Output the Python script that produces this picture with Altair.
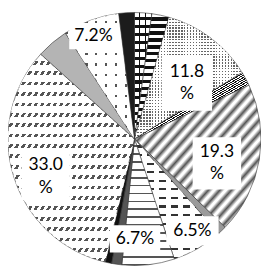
import altair as alt
import pandas as pd

# ---- data, slices clockwise from 12 o'clock ----
categories = ["Brick", "Stripes", "Dots", "Dense", "Diagonal", "SmallDots", "Dashes",
              "Waves", "Checker", "Solid", "Slashes", "Maze", "Chevrons", "DarkDots"]
values = [2.2, 2.2, 11.8, 1.8, 19.3, 1.1, 6.5, 6.7, 1.3, 0.8, 33.0, 4.1, 7.2, 2.0]
label_text = ["", "", "11.8\n%", "", "19.3\n%", "", "6.5%", "6.7%", "", "", "33.0\n%", "", "7.2%", ""]

# ---- layout / style (not data) ----
W, H = 261, 262
R = 130.5
LINE_H = 23
label_radius = [0, 0, 0.605, 0, 0.679, 0, 0.858, 0.789, 0, 0, 0.763, 0, 0.875, 0]
label_nudge = [0, 0, 6.1, 0, 6.9, 0, -2.2, 6.0, 0, 0, -5.7, 0, -1.6, 0]
box_w = [0, 0, 52, 0, 50, 0, 54, 52, 0, 0, 50, 0, 50, 0]
box_h = [0, 0, 57, 0, 54, 0, 30, 28, 0, 0, 48, 0, 27, 0]

CLEAR = "rgba(255,255,255,0)"


def hard(n, fg, frac, bg="#ffffff", vec=(0, 0, 0, 1)):
    stops = []
    for i in range(n):
        a = i / n
        m = (i + 1 - frac) / n
        b = (i + 1) / n
        stops += [(a, bg), (m, bg), (m, fg), (b, fg)]
    return {"gradient": "linear", "x1": vec[0], "y1": vec[1], "x2": vec[2], "y2": vec[3],
            "stops": [{"offset": round(o, 5), "color": c} for o, c in stops]}


def soft(n, fg, bg="#ffffff", vec=(0, 0, 1, 1)):
    stops = []
    for i in range(n):
        a = i / n
        stops += [(a, bg), (a + 0.15 / n, bg), (a + 0.55 / n, fg), (a + 0.95 / n, bg)]
    stops.append((1.0, bg))
    return {"gradient": "linear", "x1": vec[0], "y1": vec[1], "x2": vec[2], "y2": vec[3],
            "stops": [{"offset": round(o, 5), "color": c} for o, c in stops]}


HORIZ = (0, 0, 0, 1)   # gradient runs downward -> horizontal bands
VERT = (0, 0, 1, 0)    # gradient runs rightward -> vertical bands
DIAG = (0, 0, 1, 1)    # "/" bands

fills = {
    "Brick": [hard(16, "#111111", 0.4, vec=HORIZ), hard(3, "#111111", 0.18, bg=CLEAR, vec=VERT)],
    "Stripes": [hard(18, "#111111", 0.5, vec=HORIZ)],
    "Dots": [hard(42, "#666666", 0.5, vec=HORIZ), hard(37, "#ffffff", 0.5, bg=CLEAR, vec=VERT)],
    "Dense": [hard(60, "#111111", 0.5, vec=DIAG)],
    "Diagonal": [soft(22, "#555555", vec=DIAG)],
    "SmallDots": ["#9a9a9a"],
    "Dashes": [hard(14, "#333333", 0.25, vec=HORIZ), hard(7, "#ffffff", 0.4, bg=CLEAR, vec=VERT)],
    "Waves": [hard(16, "#555555", 0.22, vec=HORIZ)],
    "Checker": ["#555555"],
    "Solid": ["#111111"],
    "Slashes": [hard(20, "#555555", 0.35, vec=HORIZ), hard(40, "#ffffff", 0.5, bg=CLEAR, vec=DIAG)],
    "Maze": ["#b4b4b4"],
    "Chevrons": [hard(12, "#555555", 0.25, vec=HORIZ), hard(7, "#ffffff", 0.75, bg=CLEAR, vec=VERT)],
    "DarkDots": ["#1c1c1c"],
}

df = pd.DataFrame({
    "cat": categories,
    "value": values,
    "order": list(range(len(categories))),
    "label": label_text,
    "lines": [t.count("\n") + 1 for t in label_text],
    "lr": label_radius,
    "nudge": label_nudge,
    "bw": box_w,
    "bh": box_h,
})

theta = alt.Theta("start:Q", stack=None, scale=alt.Scale(domain=[0, 100]))
theta2 = alt.Theta2("cum:Q")

layers = []
for cat in categories:
    for k, f in enumerate(fills[cat]):
        if k == 0:
            mk = alt.Chart().mark_arc(fill=f, stroke="#333333", strokeWidth=0.6)
        else:
            mk = alt.Chart().mark_arc(fill=f, strokeWidth=0)
        layers.append(
            mk.encode(theta=theta, theta2=theta2).transform_filter(alt.datum.cat == cat)
        )

xs = alt.Scale(domain=[-W / 2, W / 2], nice=False, zero=False)
ys = alt.Scale(domain=[-H / 2, H / 2], nice=False, zero=False)

boxes = alt.Chart().mark_rect(fill="white", strokeWidth=0).encode(
    x=alt.X("bx1:Q", scale=xs, axis=None),
    x2="bx2:Q",
    y=alt.Y("by1:Q", scale=ys, axis=None),
    y2="by2:Q",
).transform_filter(alt.datum.label != "")

texts = alt.Chart().mark_text(
    font="Lato", fontSize=18, lineBreak="\n", lineHeight=LINE_H,
    align="center", baseline="middle", color="#000000"
).encode(
    x=alt.X("px:Q", scale=xs, axis=None),
    y=alt.Y("ty:Q", scale=ys, axis=None),
    text="label:N",
).transform_filter(alt.datum.label != "")

chart = alt.layer(*layers, boxes, texts, data=df).transform_window(
    cum="sum(value)", sort=[alt.SortField("order")], frame=[None, 0]
).transform_calculate(
    start="datum.cum - datum.value",
    ang="((datum.cum - datum.value / 2) * 3.6 + datum.nudge) * PI / 180",
).transform_calculate(
    px=f"datum.lr * {R} * sin(datum.ang)",
    py=f"datum.lr * {R} * cos(datum.ang)",
).transform_calculate(
    ty=f"datum.py + (datum.lines - 1) * {LINE_H} / 2",
    bx1="datum.px - datum.bw / 2",
    bx2="datum.px + datum.bw / 2",
    by1="datum.py - datum.bh / 2",
    by2="datum.py + datum.bh / 2",
).properties(
    width=W, height=H, autosize="none", padding=0
).configure_view(stroke=None)

chart.save("out.html", embed_options={"renderer": "svg", "actions": False})
